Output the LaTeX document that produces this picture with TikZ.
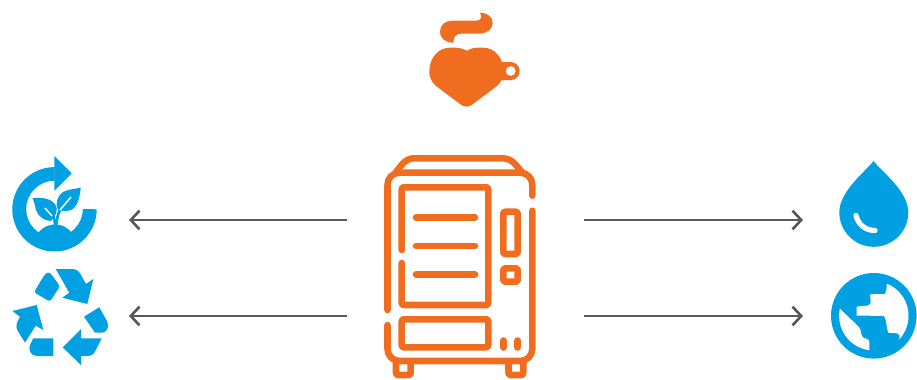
\documentclass[tikz,border=0pt]{standalone}
\usetikzlibrary{arrows.meta}
\definecolor{orng}{HTML}{F06C1E}
\definecolor{blu}{HTML}{00A0E3}
\definecolor{gry}{HTML}{58595B}
\tikzset{
  vend/.style={draw=orng,line width=4.9pt,line cap=round,line join=round},
  vendr/.style={vend,rounded corners=1.5pt},
  conn/.style={draw=gry,line width=2pt,-{Straight Barb[length=6.5pt,width=14pt,line width=2pt]}},
}
\begin{document}
\begin{tikzpicture}[x=0.75pt,y=-0.75pt]
\useasboundingbox (0,0) rectangle (917,379);
% anchors
\coordinate (mL1) at (347,220);
\coordinate (mL2) at (347,316);
\coordinate (mR1) at (584,220);
\coordinate (mR2) at (584,316);
\coordinate (plant) at (129,220);
\coordinate (recycle) at (129,316);
\coordinate (drop) at (803,220);
\coordinate (globe) at (803,316);
\draw[conn] (mL1) -- (plant);
\draw[conn] (mL2) -- (recycle);
\draw[conn] (mR1) -- (drop);
\draw[conn] (mR2) -- (globe);
% vending machine
\draw[vend,rounded corners=5pt] (396,172) -- (407,158.3) -- (510,158.3) -- (522,172);
\draw[vend,rounded corners=9pt] (387.5,310) -- (387.5,172.7) -- (532.3,172.7) -- (532.3,195.7);
\draw[vend,rounded corners=9pt] (532.3,210.7) -- (532.3,361) -- (387.5,361) -- (387.5,325);
\draw[vendr] (401.7,250) -- (401.7,187.3) -- (488.3,187.3) -- (488.3,305) -- (401.7,305) -- (401.7,263);
\draw[vend] (416,217.7) -- (475,217.7);
\draw[vend] (416,246) -- (475,246);
\draw[vend] (416,274.3) -- (475,274.3);
\draw[vendr] (503.3,211.7) rectangle (517.7,254);
\draw[vendr] (503.3,268.3) rectangle (517.7,281.7);
\draw[vendr] (401.7,319.3) rectangle (488.3,347.3);
\draw[vend] (503.3,340.5) -- (503.3,347.5);
\draw[vend] (517.7,340.5) -- (517.7,347.5);
\draw[vendr] (396,363) -- (396,375) -- (410.7,375) -- (410.7,363);
\draw[vendr] (508.5,363) -- (508.5,375) -- (523.3,375) -- (523.3,363);
% heart cup
\fill[orng,even odd rule] (510.7,71) circle (9) (510.7,71) circle (5);
\fill[orng] (498,62) -- (511,62) -- (511,66) -- (505,68) -- (505,75) -- (511,76) -- (511,80) -- (498,80.5) -- cycle;
\fill[orng] (466.7,50.7) .. controls (460,47) and (455,47.7) .. (450,47.7)
  .. controls (438,47.7) and (429.3,58) .. (429.3,71.7)
  .. controls (429.3,80) and (434,85) .. (440,89)
  -- (460,104) .. controls (464,107.5) and (469,107.5) .. (473,104)
  -- (493,89) .. controls (499,85) and (503.5,80) .. (503.5,71.7)
  .. controls (503.5,58) and (495,47.7) .. (483.3,47.7)
  .. controls (478,47.7) and (473,47) .. (466.7,50.7) -- cycle;
\fill[orng] (480,12.7) .. controls (488,13) and (492.7,17) .. (492.7,23)
  .. controls (492.7,29) and (487,33.5) .. (480,33.5)
  -- (462,33.5) .. controls (456,33.5) and (453,37) .. (453.5,42.7)
  .. controls (445,42.5) and (440,38) .. (440,32)
  .. controls (440,25) and (445,20.7) .. (452,20.7)
  -- (476,20.7) .. controls (481,20.7) and (482.5,17) .. (480,12.7) -- cycle;
% plant loop icon
\fill[blu] (96.7,209.3) arc (0:270:42.2) -- (54.5,180.7) arc (270:0:28.3) -- cycle;
\fill[blu] (54.3,156) -- (71.7,173.3) -- (54.3,190.7) -- cycle;
% soil mound
\fill[blu] (38,233) .. controls (44,226) and (50,224.5) .. (55,224.5) .. controls (62,224.5) and (67,227) .. (72,233) -- (76,246) -- (34,246) -- cycle;
% left leaf
\fill[blu] (32.3,198.3) .. controls (40,197) and (50,198) .. (55,204) .. controls (59,209) and (56,216) .. (51,221)
  .. controls (44,221) and (38,216) .. (36,210) .. controls (35,205) and (34,201) .. (32.3,198.3) -- cycle;
% right leaf
\fill[blu] (80.7,187.7) .. controls (80,196) and (78,205) .. (73,209) .. controls (68,212) and (63,211) .. (58,210)
  .. controls (55,204) and (57,196) .. (63,192) .. controls (69,189) and (75,189) .. (80.7,187.7) -- cycle;
\draw[blu,line width=2pt] (55,226) .. controls (55,218) and (53,214) .. (50,210);
\draw[blu,line width=2pt] (56,226) .. controls (57,218) and (58,214) .. (60,210);
\draw[white,line width=1.1pt] (45,208) -- (52,216);
\draw[white,line width=1.1pt] (60,210) -- (71,197);
% recycle icon
\fill[blu,rounded corners=2pt] (34,292.3) -- (45,274) -- (49.3,271.7) -- (60,286) -- (50,301.7) -- cycle;
\fill[blu] (55.7,269) -- (73.3,269) .. controls (76,269) and (79,271) .. (80,273.3) -- (86,284) -- (93.3,279) -- (87.3,304) -- (62.3,297.7) -- (69.3,292.7) -- cycle;
\fill[blu] (84,316.7) -- (99.3,307.3) -- (107.3,321.7) .. controls (110,328) and (106,332.7) .. (101.7,332.7) -- (95,332.7) -- cycle;
\fill[blu] (101.7,338.3) -- (95,351.7) .. controls (93,355) and (90,356) .. (88.3,356) -- (81,356) -- (81,365) -- (62.7,347.3) -- (81,329) -- (81,338.3) -- cycle;
\fill[blu] (53.3,338.3) -- (53.3,356) -- (36.7,356) .. controls (31,356) and (28,350) .. (30,345) -- (33.3,338.3) -- cycle;
\fill[blu] (12.3,311) -- (36.7,305) -- (43.3,330) -- (35.7,325.7) -- (25,342.7) -- (17.3,330) .. controls (15.5,326) and (16.5,323) .. (20,316.7) -- cycle;
% water drop
\fill[blu] (873.5,161) .. controls (866,171) and (839.3,191) .. (839.3,212.3)
  arc (180:0:34.5) .. controls (908.3,191) and (881,171) .. (873.5,161) -- cycle;
\draw[white,line width=3.9pt,line cap=round] (856,215.5) .. controls (858,224) and (865,230.5) .. (875,230.5);
% globe
\fill[blu] (873.8,315.8) circle (42.8);
\begin{scope}
\clip (873.8,315.8) circle (34.7);
\fill[white] (886.7,284.3) .. controls (887,290) and (885,294) .. (885,294) -- (870,294.3) .. controls (870,298) and (872,304) .. (869,305) .. controls (866,307) and (860,305) .. (856.7,307)
  -- (856.7,315.5) -- (884,316) .. controls (887,320) and (886,328) .. (888.3,332.7) -- (895,333) .. controls (899,333) and (901,336) .. (899,339)
  -- (920,345) -- (920,280) -- cycle;
\fill[white] (840,308.7) -- (859,327) .. controls (862,331) and (860,336) .. (864,338) .. controls (868,339) and (870,340) .. (869.3,342) -- (869.3,360) -- (830,360) -- (830,305) -- cycle;
\end{scope}
\end{tikzpicture}
\end{document}
